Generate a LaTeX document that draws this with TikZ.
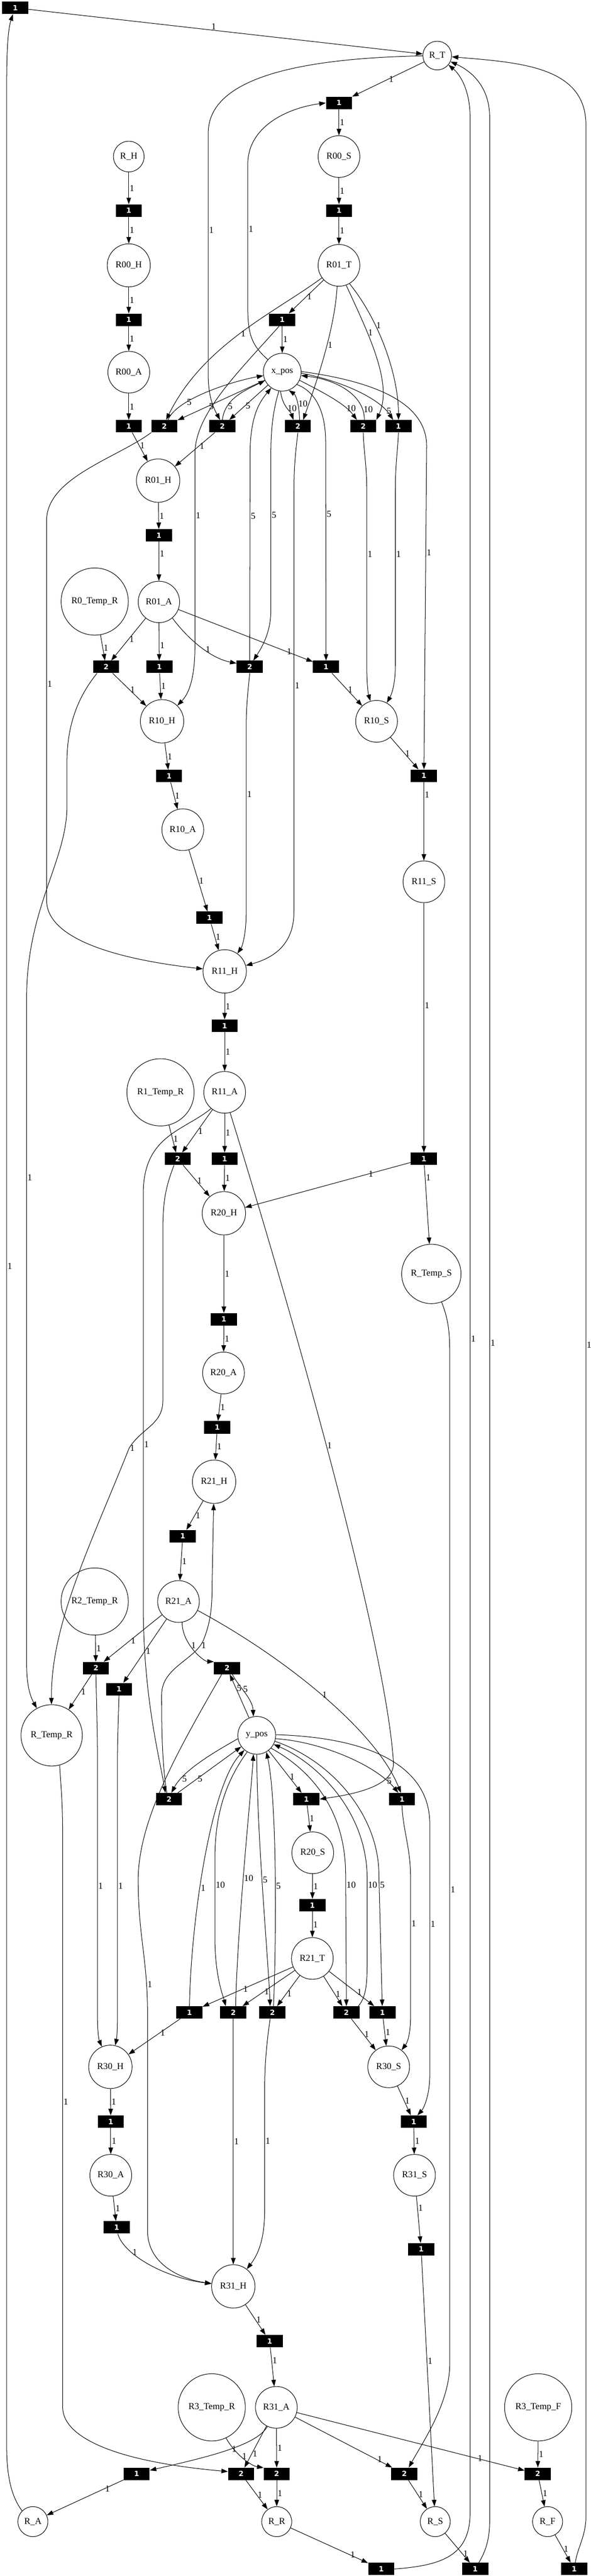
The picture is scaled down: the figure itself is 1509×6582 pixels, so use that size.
\documentclass[tikz,border=0pt]{standalone}
\usepackage{fontspec}
\setmainfont{Liberation Serif}
\newfontfamily\transfont{DejaVu Sans}
\usetikzlibrary{arrows.meta}

\tikzset{
  place/.style={circle, draw, line width=0.8pt, inner sep=0pt, font=\fontsize{14}{16}\selectfont},
  trans/.style={rectangle, fill=black, text=white, minimum width=40pt, minimum height=19pt,
    inner sep=0pt, font=\transfont\bfseries\fontsize{11}{13}\selectfont},
  pnarc/.style={-{Triangle[length=10pt,width=7pt]}, line width=0.8pt},
  lbl/.style={font=\fontsize{14}{16}\selectfont, inner sep=1pt, anchor=west},
}

\begin{document}
\catcode`\_=12
\begin{tikzpicture}[x=0.6pt,y=-0.6pt]
    \useasboundingbox (0,0) rectangle (1509,6582);
    % Places
    \foreach \n/\x/\y/\d in {R_T/1117/142/44, R_H/329/400/47, R00_S/866/400/64, R00_H/329/678/66,
        R01_T/866/678/64, R00_A/329/951/64, x_pos/721/951/58, R01_H/404/1228/66.5,
        R0_Temp_R/242/1537/103, R01_A/406/1538/63.5, R10_H/414/1843/66.5, R10_S/962/1843/64,
        R10_A/467/2120/64, R11_S/1083/2253/64, R11_H/574/2482/66.5, R1_Temp_R/410/2791/103,
        R11_A/574/2791/64, R20_H/572/3100/66.5, R_Temp_S/1102/3255/91, R20_A/571/3508/64,
        R21_H/547/3786/66.5, R2_Temp_R/242/4092/103, R21_A/456/4092/64, R_Temp_R/132/4434/94,
        y_pos/656/4434/58, R20_S/799/4734/64, R21_T/798/5004/64, R30_H/282/5281/66.5,
        R30_S/993/5281/64, R30_A/283/5558/64, R31_S/1059/5558/64, R31_H/596/5842/66.5,
        R3_Temp_R/541/6151/103, R31_A/706/6151/64, R3_Temp_F/1375/6151/103,
        R_A/84/6443/46, R_R/707/6443/46, R_S/1112/6443/46, R_F/1399/6443/46}
        \node[place, minimum size=\d pt] (\n) at (\x,\y) {\n};
    % Transitions
    \foreach \n/\x/\y/\w in {T0/39/20/1, T1/866/263/1, T2/866/538/1, T3/329/538/1, T4/329/817/1,
        T5/721/817/1, T6/329/1089/1, T7/420/1089/2, T8/568/1089/2, T9/761/1089/2, T10/928/1089/2,
        T11/1018/1089/1, T12/406/1368/1, T13/271/1704/2, T14/407/1704/1, T15/638/1704/2,
        T16/833/1704/1, T17/1083/1982/1, T18/432/1983/1, T19/535/2345/1, T20/574/2621/1,
        T21/454/2961/2, T22/574/2961/1, T23/1083/2961/1, T24/572/3371/1, T25/555/3647/1,
        T26/467/3925/1, T27/245/4262/2, T28/304/4316/1, T29/580/4262/2, T30/432/4597/2,
        T31/1027/4597/1, T32/783/4597/1, T33/798/4868/1, T34/484/5142/1, T35/596/5142/2,
        T36/696/5142/2, T37/885/5142/2, T38/977/5142/1, T39/1057/5421/1, T40/283/5421/1,
        T41/298/5691/1, T42/689/5982/1, T43/1076/5747/1, T44/349/6321/1, T45/616/6321/2,
        T46/707/6321/2, T47/1033/6321/2, T48/1374/6321/2, T49/974/6564/1, T50/1214/6564/1,
        T51/1467/6564/1}
        \node[trans] (\n) at (\x,\y) {\w};
    % Straight arcs
    \foreach \a/\b/\w/\p in {R_T/T1/1/0.5, T1/R00_S/1/0.5, R00_S/T2/1/0.5, T2/R01_T/1/0.5,
        R_H/T3/1/0.5, T3/R00_H/1/0.5, R00_H/T4/1/0.5, T4/R00_A/1/0.5, R00_A/T6/1/0.5,
        R01_T/T5/1/0.5, T5/x_pos/1/0.5, T6/R01_H/1/0.45, T8/R01_H/1/0.4, R01_H/T12/1/0.5,
        T12/R01_A/1/0.31, R0_Temp_R/T13/1/0.5, R01_A/T13/1/0.5, R01_A/T14/1/0.6,
        R01_A/T16/1/0.8, T13/R10_H/1/0.5, T14/R10_H/1/0.5, T16/R10_S/1/0.5, R10_H/T18/1/0.5,
        T18/R10_A/1/0.5, R10_A/T19/1/0.5, T19/R11_H/1/0.5, R10_S/T17/1/0.5, T17/R11_S/1/0.16,
        R11_S/T23/1/0.41, R11_H/T20/1/0.5, T20/R11_A/1/0.5, R1_Temp_R/T21/1/0.5,
        R11_A/T21/1/0.5, R11_A/T22/1/0.5, T21/R20_H/1/0.5, T22/R20_H/1/0.5, T23/R20_H/1/0.26,
        T23/R_Temp_S/1/0.16, R20_H/T24/1/0.5, T24/R20_A/1/0.5, R20_A/T25/1/0.5,
        T25/R21_H/1/0.5, R21_H/T26/1/0.5, T26/R21_A/1/0.5, R2_Temp_R/T27/1/0.5,
        R21_A/T27/1/0.55, R21_A/T28/1/0.5, T27/R_Temp_R/1/0.5, T32/R20_S/1/0.5,
        R20_S/T33/1/0.5, T33/R21_T/1/0.5, R21_T/T34/1/0.56, R21_T/T35/1/0.6, R21_T/T36/1/0.6,
        R21_T/T37/1/0.6, R21_T/T38/1/0.6, T34/R30_H/1/0.4, T37/R30_S/1/0.5, T38/R30_S/1/0.5,
        R30_S/T39/1/0.5, T39/R31_S/1/0.5, R30_H/T40/1/0.5, T40/R30_A/1/0.5, R30_A/T41/1/0.5,
        T35/R31_H/1/0.5, R31_S/T43/1/0.25, T43/R_S/1/0.42, R31_H/T42/1/0.5, T42/R31_A/1/0.33,
        R31_A/T45/1/0.67, R31_A/T46/1/0.5, R31_A/T47/1/0.84, R31_A/T48/1/0.79,
        R3_Temp_F/T48/1/0.5, T44/R_A/1/0.25, T45/R_R/1/0.5, T46/R_R/1/0.5, T47/R_S/1/0.5,
        T48/R_F/1/0.5, R_R/T49/1/0.76, R_S/T50/1/0.7, R_F/T51/1/0.5,
        x_pos/T7/5/0.65, x_pos/T8/5/0.6, y_pos/T29/5/0.68, T30/y_pos/5/0.3, y_pos/T32/1/0.62}
        \draw[pnarc] (\a) -- node[lbl,pos=\p]{\w} (\b);
    % Upper part
    \draw[pnarc] (T0) -- node[lbl,pos=0.47,anchor=south]{1} (R_T);
    \draw[pnarc] (R_T) .. controls (700,150) and (532,220) .. (532,340) -- (532,960) node[lbl,pos=0.4]{1}
        .. controls (532,1020) and (550,1050) .. (T8.110);
    \draw[pnarc] (x_pos) .. controls (640,880) and (633,850) .. (633,780) -- (633,420) node[lbl,pos=0.54]{1}
        .. controls (633,320) and (740,275) .. (T1.west);
    \draw[pnarc] (T5.-115) .. controls (600,960) and (498,1060) .. (498,1160) -- (498,1650) node[lbl,pos=0.32]{1}
        .. controls (498,1740) and (480,1775) .. (R10_H);
    \draw[pnarc] (R01_T) .. controls (700,800) and (520,880) .. (T7.75) node[lbl,pos=0.5]{1};
    \draw[pnarc] (R01_T.-95) .. controls (855,850) and (800,1000) .. (T9.50) node[lbl,pos=0.4]{1};
    \draw[pnarc] (R01_T.-70) .. controls (940,850) and (1005,980) .. (T10.north east) node[lbl,pos=0.33]{1};
    \draw[pnarc] (R01_T.-60) .. controls (970,820) and (1018,960) .. (T11.north) node[lbl,pos=0.33]{1};
    % x_pos
    \draw[pnarc] (T7.60) .. controls (450,1020) and (590,975) .. (x_pos) node[lbl,pos=0.3]{5};
    \draw[pnarc] (T8.north) .. controls (575,1020) and (620,1000) .. (x_pos) node[lbl,pos=0.25]{5};
    \draw[pnarc] (x_pos.-95) .. controls (722,1040) and (742,1050) .. (T9.125) node[lbl,pos=0.5]{10};
    \draw[pnarc] (T9.75) .. controls (765,1040) and (757,1010) .. (x_pos.-70) node[lbl,pos=0.45]{10};
    \draw[pnarc] (x_pos.-40) .. controls (805,1000) and (832,1050) .. (832,1130) -- (T16) node[lbl,pos=0.33]{5};
    \draw[pnarc] (x_pos.-25) .. controls (820,1000) and (880,1030) .. (T10.135) node[lbl,pos=0.75]{10};
    \draw[pnarc] (T10.80) .. controls (932,1010) and (860,970) .. (x_pos.-10) node[lbl,pos=0.15]{10};
    \draw[pnarc] (x_pos.-3) .. controls (880,975) and (970,1020) .. (T11.130) node[lbl,pos=0.85]{5};
    \draw[pnarc] (x_pos.2) .. controls (960,975) and (1090,1030) .. (1090,1140) -- (T17) node[lbl,pos=0.33]{1};
    \draw[pnarc] (x_pos.-100) .. controls (697,1050) and (692,1100) .. (692,1160) -- (692,1560) node[lbl,pos=0.39]{5}
        .. controls (692,1620) and (665,1660) .. (T15.60);
    \draw[pnarc] (T15.north) -- (639,1160) node[lbl,pos=0.7]{5} .. controls (639,1060) and (665,1025) .. (x_pos.-125);
    % Long arcs down
    \draw[pnarc] (T7.south west) .. controls (300,1170) and (119,1220) .. (119,1330) -- (119,2300) node[lbl,pos=0.43]{1}
        .. controls (119,2420) and (380,2460) .. (R11_H);
    \draw[pnarc] (T9.south) .. controls (752,1180) and (751,1210) .. (751,1260) -- (751,2330) node[lbl,pos=0.46]{1}
        .. controls (751,2420) and (690,2450) .. (R11_H);
    \draw[pnarc] (T15.south) .. controls (632,1780) and (629,1810) .. (629,1860) -- (629,2330) node[lbl,pos=0.36]{1}
        .. controls (629,2390) and (618,2420) .. (R11_H);
    \draw[pnarc] (T13.-145) .. controls (200,1780) and (171,1850) .. (171,1950) -- (171,2060)
        .. controls (171,2200) and (68,2320) .. (68,2550) -- (68,4250) node[lbl,pos=0.27]{1}
        .. controls (68,4300) and (75,4330) .. (R_Temp_R);
    \draw[pnarc] (T10.south) .. controls (929,1150) and (937,1190) .. (937,1250) -- (937,1700) node[lbl,pos=0.37]{1}
        .. controls (937,1740) and (940,1770) .. (R10_S);
    \draw[pnarc] (T11.south) .. controls (1016,1150) and (1010,1190) .. (1010,1250) -- (1010,1700) node[lbl,pos=0.37]{1}
        .. controls (1010,1750) and (1000,1775) .. (R10_S);
    \draw[pnarc] (R01_A.-50) .. controls (470,1620) and (530,1680) .. (T15.165) node[lbl,pos=0.6]{1};
    % Middle part
    \draw[pnarc] (R11_A.-130) .. controls (470,2890) and (366,2900) .. (366,3050) -- (366,4100) node[lbl,pos=0.61]{1}
        .. controls (366,4330) and (405,4480) .. (T30.120);
    \draw[pnarc] (R11_A.-75) .. controls (760,3400) and (985,4200) .. (1005,4500) node[lbl,pos=0.46]{1}
        .. controls (1012,4565) and (900,4585) .. (T32.east);
    \draw[pnarc] (T21.-120) .. controls (420,3040) and (416,3080) .. (416,3150) -- (416,3580)
        .. controls (416,3640) and (360,3650) .. (330,3700)
        .. controls (230,3950) and (130,4150) .. (R_Temp_R) node[lbl,pos=0]{1};
    \draw[pnarc] (T30.110) .. controls (413,4500) and (413,4400) .. (413,4330)
        .. controls (413,4260) and (500,4240) .. (520,4190) node[lbl,pos=0.9]{1}
        .. controls (540,4140) and (542,4100) .. (542,4040) -- (R21_H);
    \draw[pnarc] (R21_A.-80) .. controls (465,4200) and (520,4245) .. (T29.north west) node[lbl,pos=0.4]{1};
    \draw[pnarc] (R21_A.-25) .. controls (720,4230) and (960,4420) .. (T31.100) node[lbl,pos=0.5]{1};
    % y_pos
    \draw[pnarc] (T29.-50) .. controls (610,4310) and (645,4340) .. (y_pos.100) node[lbl,pos=0.4]{5};
    \draw[pnarc] (y_pos.190) .. controls (560,4470) and (470,4520) .. (T30.70) node[lbl,pos=0.8]{5};
    \draw[pnarc] (y_pos.-10) .. controls (820,4450) and (960,4510) .. (T31.120) node[lbl,pos=0.85]{5};
    \draw[pnarc] (y_pos.2) .. controls (960,4440) and (1098,4520) .. (1098,4660) -- (1098,5300) node[lbl,pos=0.4]{1}
        .. controls (1098,5360) and (1080,5390) .. (T39.60);
    \draw[pnarc] (T34.north) .. controls (488,4900) and (540,4560) .. (y_pos.-130) node[lbl,pos=0.4]{1};
    \draw[pnarc] (y_pos.-120) .. controls (570,4560) and (549,4650) .. (549,4750) -- (549,4950) node[lbl,pos=0.33]{10}
        .. controls (549,5050) and (570,5100) .. (T35.140);
    \draw[pnarc] (T35.70) .. controls (608,4900) and (640,4600) .. (y_pos.-100) node[lbl,pos=0.45]{10};
    \draw[pnarc] (y_pos.-90) .. controls (657,4700) and (685,5000) .. (T36.110) node[lbl,pos=0.45]{5};
    \draw[pnarc] (T36.80) .. controls (706,4950) and (708,4600) .. (y_pos.-60) node[lbl,pos=0.45]{5};
    \draw[pnarc] (y_pos.-42) .. controls (790,4520) and (883,4620) .. (883,4790) -- (T37) node[lbl,pos=0.08]{10};
    \draw[pnarc] (T37.28) .. controls (938,5100) and (938,5060) .. (938,5000) -- (938,4800) node[lbl,pos=0.92]{10}
        .. controls (938,4620) and (800,4500) .. (y_pos.-28);
    \draw[pnarc] (y_pos.-18) .. controls (850,4500) and (968,4640) .. (968,4790) -- (T38) node[lbl,pos=0.08]{5};
    % Lower part
    \draw[pnarc] (T31.south) .. controls (1030,4680) and (1049,4720) .. (1049,4800) -- (1049,5150) node[lbl,pos=0.33]{1}
        .. controls (1049,5200) and (1040,5220) .. (R30_S);
    \draw[pnarc] (T27.south) .. controls (248,4400) and (249,4450) .. (249,4500) -- (249,5150) node[lbl,pos=0.49]{1}
        .. controls (249,5190) and (252,5210) .. (R30_H);
    \draw[pnarc] (T28.south) .. controls (302,4400) and (300,4450) .. (300,4500) -- (300,5150) node[lbl,pos=0.49]{1}
        .. controls (300,5190) and (298,5210) .. (R30_H);
    \draw[pnarc] (T29.-130) .. controls (450,4480) and (355,4650) .. (353,4800)
        .. controls (353,4950) and (377,5000) .. (377,5150) node[lbl,pos=0.8]{1} -- (377,5700)
        .. controls (377,5790) and (470,5825) .. (R31_H);
    \draw[pnarc] (T36.-110) .. controls (680,5230) and (676,5280) .. (676,5350) -- (676,5650) node[lbl,pos=0.4]{1}
        .. controls (676,5720) and (660,5760) .. (R31_H);
    \draw[pnarc] (T41.-80) .. controls (315,5760) and (420,5820) .. (R31_H) node[lbl,pos=0.3]{1};
    \draw[pnarc] (R_Temp_R.-75) .. controls (155,4560) and (160,4600) .. (160,4680) -- (160,6150) node[lbl,pos=0.47]{1}
        .. controls (160,6230) and (300,6290) .. (T45.170);
    \draw[pnarc] (R_Temp_S.-70) .. controls (1145,3370) and (1149,3400) .. (1149,3460) -- (1149,6040) node[lbl,pos=0.53]{1}
        .. controls (1149,6140) and (1080,6240) .. (T47.55);
    \draw[pnarc] (R3_Temp_R.-65) .. controls (600,6270) and (640,6300) .. (T46.155) node[lbl,pos=0.45]{1};
    \draw[pnarc] (R31_A.-115) .. controls (655,6250) and (520,6280) .. (T44.15) node[lbl,pos=0.45]{1};
    % Back to R_T
    \draw[pnarc] (T49.east) .. controls (1130,6555) and (1201,6530) .. (1201,6420) -- (1201,300) node[lbl,pos=0.49]{1}
        .. controls (1201,230) and (1175,190) .. (R_T);
    \draw[pnarc] (T50.60) .. controls (1240,6520) and (1251,6490) .. (1251,6440) -- (1251,300) node[lbl,pos=0.49]{1}
        .. controls (1251,210) and (1190,175) .. (R_T);
    \draw[pnarc] (T51.80) .. controls (1475,6510) and (1497,6480) .. (1497,6430) -- (1497,320) node[lbl,pos=0.49]{1}
        .. controls (1497,170) and (1330,160) .. (R_T);
    \draw[pnarc] (R_A.135) .. controls (30,6380) and (17,6330) .. (17,6250) -- (17,220) node[lbl,pos=0.5]{1}
        .. controls (17,110) and (22,70) .. (T0.-110);
\end{tikzpicture}
\end{document}
